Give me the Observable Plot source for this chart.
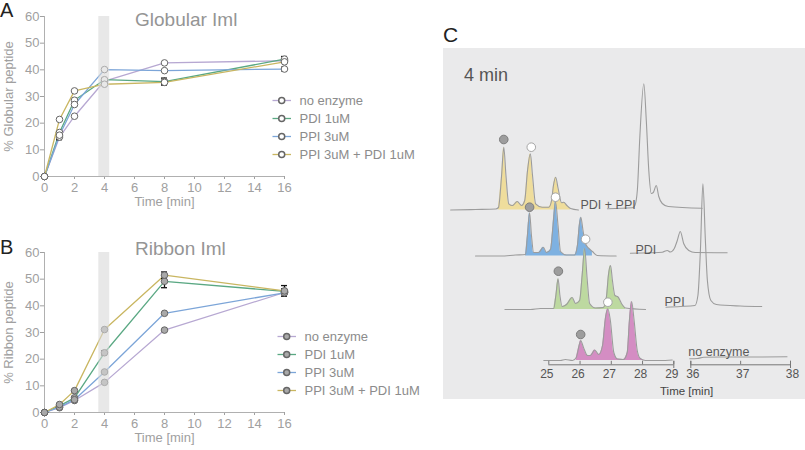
<!DOCTYPE html>
<html><head><meta charset="utf-8">
<script src="https://cdn.jsdelivr.net/npm/d3@7"></script>
<script src="https://cdn.jsdelivr.net/npm/@observablehq/plot@0.6"></script>
<style>
body{margin:0;background:#fff;font-family:"Liberation Sans",Arial,sans-serif;}
#root{position:relative;width:805px;height:450px;overflow:hidden;background:#fff;}
.abs{position:absolute;}
.abs svg{overflow:visible;background:transparent;}
.lbl{position:absolute;white-space:nowrap;line-height:1;}
</style></head><body><div id="root"></div>
<script>
// ---------- Panels A & B data ----------
const times = [0, 1, 2, 4, 8, 16];
const seriesNames = ["no enzyme", "PDI 1uM", "PPI 3uM", "PPI 3uM + PDI 1uM"];
const seriesColors = ["#b7a8d2", "#5aa883", "#7ca5d8", "#c9b661"];
const highlightWindow = [3.62, 4.35];
const xTicksAB = [0, 2, 4, 6, 8, 10, 12, 14, 16];
const yTicksAB = [0, 10, 20, 30, 40, 50, 60];

const globNoEnzyme = [0, 14.8, 22.6, 35.8, 42.6, 43.4];
const globPDI      = [0, 16.5, 28.6, 36.3, 35.6, 44.0];
const globPPI      = [0, 15.5, 27.0, 40.1, 39.7, 40.3];
const globBoth     = [0, 21.4, 32.1, 34.6, 35.3, 43.0];
const globErrNoEnzyme = [0, 1.0, 0, 0, 0, 0];
const globErrPDI      = [0, 0, 0, 0.5, 1.3, 1.0];
const globErrPPI      = [0, 0, 0, 0, 0, 0.7];
const globErrBoth     = [0, 0, 0, 0, 0.8, 0];

const ribNoEnzyme = [0, 1.8, 4.5, 11.3, 30.9, 45.0];
const ribPDI      = [0, 2.5, 5.5, 22.4, 49.2, 45.4];
const ribPPI      = [0, 2.0, 4.8, 15.2, 37.2, 44.9];
const ribBoth     = [0, 3.0, 8.2, 31.1, 51.5, 45.6];
const ribErrNoEnzyme = [0, 0, 0, 0, 0, 0.8];
const ribErrPDI      = [0, 0.3, 0.5, 0.8, 2.4, 1.0];
const ribErrPPI      = [0, 0, 0, 0, 0, 0];
const ribErrBoth     = [0, 0.3, 0.3, 0, 1.2, 2.0];

// ---------- Panel C data (time in min, intensity in arbitrary units) ----------
const xTicksLeftC = [25, 26, 27, 28, 29];
const xTicksRightC = [36, 37, 38];
const traceNames = ["PDI + PPI", "PDI", "PPI", "no enzyme"];
const peakFillWindow = [25.82, 28.18];

const tracePdiPpiEarly = [[24.32,0],[25.12,0.5],[25.76,1],[25.85,2.5],[25.95,34.5],[26.02,62.8],[26.09,34.5],[26.18,6.2],[26.30,4.5],[26.45,8.5],[26.59,4.5],[26.69,9.5],[26.78,39.5],[26.87,56.2],[26.94,34.5],[27.04,6.2],[27.25,2.8],[27.46,2.8],[27.55,9.5],[27.61,24.5],[27.68,32.8],[27.76,21.5],[27.87,7.2],[27.94,7.8],[28.04,4.5],[28.16,1.5],[28.41,0]];
const tracePdiEarly = [[24.30,0],[25.10,0],[25.58,1],[25.90,1.5],[25.96,20.5],[26.03,43.2],[26.09,20.5],[26.16,3.5],[26.32,3.5],[26.47,8.8],[26.57,3.5],[26.70,6.5],[26.78,30.5],[26.86,54.5],[26.94,30.5],[27.02,4.5],[27.21,1],[27.47,1],[27.56,10.5],[27.62,30.5],[27.67,38.8],[27.74,25.5],[27.82,12.2],[27.92,7.8],[28.04,4.5],[28.20,0.5],[28.80,0]];
const tracePpiEarly = [[24.31,0],[25.13,0],[25.45,1],[25.87,1],[25.94,14],[26.01,30.7],[26.07,14],[26.14,3],[26.28,5],[26.46,12],[26.57,6],[26.70,9],[26.78,34],[26.86,61],[26.94,31],[27.02,6],[27.21,1.5],[27.46,2],[27.56,13],[27.62,34],[27.69,44],[27.75,29],[27.83,14],[27.93,12.5],[28.04,6],[28.17,1.5],[28.81,0]];
const traceNoEnzEarly = [[24.84,0],[25.37,0],[25.53,1],[25.76,0],[25.88,3],[25.97,15],[26.02,20],[26.11,13],[26.24,5],[26.33,5],[26.47,10.5],[26.60,6],[26.72,15],[26.81,42],[26.89,51.7],[26.97,40],[27.08,8],[27.20,1.5],[27.39,1],[27.51,8],[27.58,40],[27.65,59],[27.73,40],[27.83,10],[27.93,2],[28.09,0],[28.57,0],[28.95,0.5]];

const tracePdiPpiLate = [[35.87,1.2],[36.37,2.2],[36.42,4.5],[36.47,19.5],[36.52,72.8],[36.60,126.2],[36.65,89.5],[36.70,39.5],[36.75,16.5],[36.79,17.5],[36.85,24.5],[36.90,13.5],[36.97,6.5],[37.09,3.5],[37.77,1.7]];
const tracePdiLate = [[35.82,2.8],[36.22,3.2],[36.46,3.8],[36.56,5.5],[36.62,4],[36.70,7.5],[36.76,15.5],[36.82,24.5],[36.89,12.2],[36.99,5.5],[37.12,3.5],[37.76,3.2]];
const tracePpiLate = [[35.95,2.3],[36.24,3],[36.53,4],[36.59,14],[36.64,59],[36.69,125.7],[36.74,69],[36.78,29],[36.85,9],[36.96,5],[37.44,3.5],[37.87,3]];
const traceNoEnzLate = [[35.98,1.7],[36.13,2],[36.26,3.3],[36.59,3.5],[37.19,3.5],[37.93,3.7]];

// peak markers: [trace, time, intensity, kind]
const peakMarkers = [
  ["PDI + PPI", 26.02, 70.5, "ribbon"], ["PDI + PPI", 26.90, 62.8, "globular"],
  ["PDI", 26.03, 48.8, "ribbon"], ["PDI", 26.86, 58.8, "globular"],
  ["PPI", 26.02, 38.3, "ribbon"], ["PPI", 26.89, 70.3, "globular"],
  ["no enzyme", 26.02, 26.0, "ribbon"], ["no enzyme", 26.89, 58.3, "globular"]
];
// trace labels: [trace, time, intensity]
const traceLabels = [["PDI + PPI", 35.33, 1], ["PDI", 35.92, 2.5], ["PPI", 35.92, 3.5], ["no enzyme", 35.95, 5]];

// ---------- styles ----------
const FONT = "Liberation Sans, Arial, sans-serif";
const traceStyle = {
  "PDI + PPI": {fill: "#efdd9c", dx: -76.9, dy: -150.5},
  "PDI":       {fill: "#7eb1e1", dx: -51.4, dy: -104.5},
  "PPI":       {fill: "#bdd9a0", dx: -22.3, dy: -51},
  "no enzyme": {fill: "#d48dc3", dx: 0, dy: 0}
};
const root = document.getElementById("root");
function place(node, left, top) {
  const d = document.createElement("div");
  d.className = "abs"; d.style.left = left + "px"; d.style.top = top + "px";
  d.appendChild(node); root.appendChild(d); return d;
}
function label(text, left, top, size, color, extra) {
  const d = document.createElement("div");
  d.className = "lbl"; d.textContent = text;
  Object.assign(d.style, {left: left + "px", top: top + "px", fontSize: size + "px", color, fontFamily: FONT}, extra || {});
  root.appendChild(d); return d;
}

function rowsFor(valuesList, errList) {
  const rows = [];
  seriesNames.forEach((s, i) => times.forEach((t, j) => rows.push({series: s, time: t, value: valuesList[i][j], err: errList[i][j]})));
  return rows;
}

function timeCourse(rows, yLabel, dotFill) {
  const errRows = rows.filter(d => d.err > 0);
  return Plot.plot({
    width: 300, height: 215, marginLeft: 44, marginRight: 16, marginTop: 16, marginBottom: 39,
    style: {fontFamily: FONT, fontSize: "13px", color: "#a0a0a0", background: "transparent", overflow: "visible"},
    x: {domain: [0, 16]}, y: {domain: [0, 60]},
    color: {domain: seriesNames, range: seriesColors},
    marks: [
      Plot.axisX({ticks: xTicksAB, tickSize: 3, tickPadding: 3, label: null}),
      Plot.axisY({ticks: yTicksAB, tickSize: 4, tickPadding: 1, label: null}),
      Plot.ruleX([0], {stroke: "#b0b0b0"}),
      Plot.ruleY([0], {stroke: "#b0b0b0"}),
      Plot.line(rows, {x: "time", y: "value", z: "series", stroke: "series", strokeWidth: 1.3}),
      Plot.ruleX(errRows, {x: "time", y1: d => d.value - d.err, y2: d => d.value + d.err, stroke: "#111", strokeWidth: 1.3}),
      Plot.ruleY(errRows, {y: d => d.value + d.err, x1: d => d.time - 0.2, x2: d => d.time + 0.2, stroke: "#111", strokeWidth: 1.3}),
      Plot.ruleY(errRows, {y: d => d.value - d.err, x1: d => d.time - 0.2, x2: d => d.time + 0.2, stroke: "#111", strokeWidth: 1.3}),
      Plot.dot(rows, {x: "time", y: "value", r: 3.3, fill: dotFill, stroke: "#666", strokeWidth: 1}),
      Plot.rect([highlightWindow], {x1: d => d[0], x2: d => d[1], y1: 0, y2: 60, fill: "#d8d8d8", fillOpacity: 0.6}),
      Plot.text([yLabel], {frameAnchor: "left", textAnchor: "middle", rotate: -90, dx: -36, fill: "#a0a0a0", fontSize: 13}),
      Plot.text(["Time [min]"], {frameAnchor: "bottom", textAnchor: "middle", dy: 29, fill: "#a0a0a0", fontSize: 13})
    ]
  });
}

function legend(dotFill) {
  return Plot.plot({
    width: 150, height: 75, margin: 0,
    style: {fontFamily: FONT, background: "transparent", overflow: "visible"},
    x: {domain: [0, 150], range: [0, 150], axis: null},
    y: {type: "point", domain: seriesNames, range: [9, 64], padding: 0, axis: null},
    color: {domain: seriesNames, range: seriesColors},
    marks: [
      Plot.link(seriesNames, {x1: 0, x2: 18.5, y1: d => d, y2: d => d, stroke: d => d, strokeWidth: 1.3}),
      Plot.dot(seriesNames, {x: 9.2, y: d => d, r: 3, fill: dotFill, stroke: "#666"}),
      Plot.text(seriesNames, {x: 27, y: d => d, text: d => d, textAnchor: "start", fill: "#8c8c8c", fontSize: 13})
    ]
  });
}

// Panel A
place(timeCourse(rowsFor([globNoEnzyme, globPDI, globPPI, globBoth], [globErrNoEnzyme, globErrPDI, globErrPPI, globErrBoth]), "% Globular peptide", "white"), 0, 0);
place(legend("white"), 272, 90);
label("Globular Iml", 135, 10, 19, "#959595");
label("A", 0, 0, 20, "#222");

// Panel B
place(timeCourse(rowsFor([ribNoEnzyme, ribPDI, ribPPI, ribBoth], [ribErrNoEnzyme, ribErrPDI, ribErrPPI, ribErrBoth]), "% Ribbon peptide", "#a9a9a9"), 0, 235.5);
place(legend("#a9a9a9"), 277, 326);
label("Ribbon Iml", 135, 239, 19, "#959595");
label("B", 0, 237, 20, "#222");

// Panel C background
const bg = document.createElement("div");
Object.assign(bg.style, {position: "absolute", left: "443px", top: "48px", width: "362px", height: "351px", background: "#eaeaeb"});
root.appendChild(bg);

function chromPlot(domain, marginLeft, marginRight, traces, ticks, withMarkers, withLabels, labelShift) {
  const marks = [];
  traces.forEach(([name, pts]) => {
    const st = traceStyle[name];
    const data = pts.map(([t, h]) => ({t, h}));
    if (withMarkers) {
      const fillPts = data.filter(d => d.t >= peakFillWindow[0] && d.t <= peakFillWindow[1]);
      marks.push(Plot.areaY(fillPts, {x: "t", y: "h", fill: st.fill, curve: "monotone-x", dx: st.dx, dy: st.dy}));
    }
    marks.push(Plot.line(data, {x: "t", y: "h", stroke: "#9c9c9c", strokeWidth: 1.1, curve: "monotone-x", dx: st.dx, dy: st.dy}));
    if (withMarkers) {
      const mk = peakMarkers.filter(m => m[0] === name).map(([, t, h, kind]) => ({t, h, kind}));
      marks.push(Plot.dot(mk, {x: "t", y: "h", r: 4.3, fill: d => d.kind === "ribbon" ? "#9d9d9d" : "#ffffff", stroke: d => d.kind === "ribbon" ? "#7c7c7c" : "#a5a5a5", strokeWidth: 1, dx: st.dx, dy: st.dy}));
    }
    if (withLabels) {
      const lb = traceLabels.filter(l => l[0] === name).map(([n, t, h]) => ({n, t, h}));
      marks.push(Plot.text(lb, {x: "t", y: "h", text: "n", textAnchor: "start", lineAnchor: "bottom", fill: "#5a5a5a", fontSize: 12.5, dx: st.dx, dy: st.dy}));
    }
  });
  marks.push(Plot.ruleY([-4.3], {stroke: "#777", strokeWidth: 1}));
  marks.push(Plot.ruleX(ticks, {x: d => d, y1: -4.3, y2: -0.8, stroke: "#777"}));
  marks.push(Plot.ruleX([domain[0], domain[1]].filter(d => d !== 25), {x: d => d, y1: -8, y2: -0.8, stroke: "#777"}));
  marks.push(Plot.axisX({ticks, tickSize: 0, tickPadding: 5, tickFormat: d => String(d), label: null, fill: "#555", fontSize: 12, dx: labelShift}));
  return Plot.plot({
    width: 362, height: 352, marginLeft, marginRight, marginTop: 0, marginBottom: 35.7,
    style: {fontFamily: FONT, fontSize: "12px", color: "#555", background: "transparent", overflow: "visible"},
    x: {domain}, y: {domain: [-4.3, 312], axis: null},
    marks
  });
}

place(chromPlot([25, 29], 105.3, 131.7,
  [["PDI + PPI", tracePdiPpiEarly], ["PDI", tracePdiEarly], ["PPI", tracePpiEarly], ["no enzyme", traceNoEnzEarly]],
  xTicksLeftC, true, false, -2), 443, 48);
place(chromPlot([36, 38], 247.3, 15,
  [["PDI + PPI", tracePdiPpiLate], ["PDI", tracePdiLate], ["PPI", tracePpiLate], ["no enzyme", traceNoEnzLate]],
  xTicksRightC, false, true, 2), 443, 48);

label("4 min", 464, 66, 18, "#555");
label("Time [min]", 660, 386, 11.5, "#444");
label("C", 443, 24, 21, "#222");
</script></body></html>
